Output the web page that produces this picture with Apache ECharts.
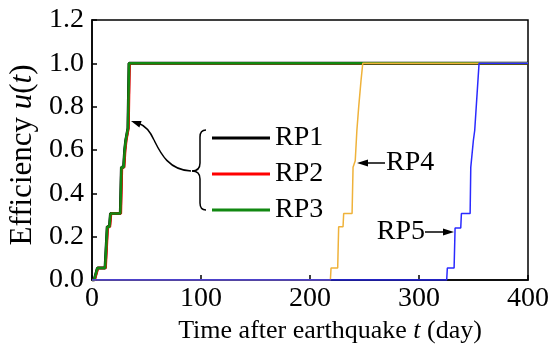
<!DOCTYPE html>
<html lang="en">
<head>
    <meta charset="UTF-8">
    <title>Efficiency</title>
    <script src="https://cdn.jsdelivr.net/npm/echarts@6/dist/echarts.min.js"></script>
</head>
<body style="margin:0">
<div id="main" style="width: 551px;height: 349px;"></div>
<script>
    // recovery curves (day, efficiency)
    var rp1Days = [0, 2, 5, 12, 14, 16, 17, 26, 27, 29, 30, 31, 33, 34, 400];
    var rp1Eff  = [0, 0, 0.055, 0.055, 0.246, 0.246, 0.307, 0.307, 0.52, 0.52, 0.6, 0.645, 0.7, 1.0, 1.0];
    var rp2Days = [0, 2.5, 5.5, 12.5, 14.5, 16.5, 17.5, 26.5, 27.5, 29.5, 30.5, 31.5, 33.5, 34.5, 400];
    var rp2Eff  = [0, 0, 0.055, 0.055, 0.246, 0.246, 0.307, 0.307, 0.52, 0.52, 0.6, 0.645, 0.7, 1.0, 1.0];
    var rp3Days = [0, 2, 5, 12, 14, 16, 17, 26, 27, 29, 30, 31, 33, 34, 400];
    var rp3Eff  = [0, 0, 0.055, 0.055, 0.246, 0.246, 0.307, 0.307, 0.52, 0.52, 0.6, 0.645, 0.7, 1.0, 1.0];
    var rp4Days = [0, 218.7, 219.3, 225.4, 226.3, 230.3, 230.9, 238.6, 239.5, 241.5, 243, 244.7, 246.8, 248.4, 400];
    var rp4Eff  = [0, 0, 0.055, 0.055, 0.246, 0.246, 0.307, 0.307, 0.52, 0.55, 0.69, 0.8, 0.92, 1.0, 1.0];
    var rp5Days = [0, 325.4, 326, 332.2, 333.1, 338.3, 338.9, 346.9, 347.5, 349.9, 351.1, 355.1, 400];
    var rp5Eff  = [0, 0, 0.055, 0.055, 0.24, 0.24, 0.307, 0.307, 0.52, 0.645, 0.69, 1.0, 1.0];
    var xTicks = [0, 100, 200, 300, 400];
    var yTicks = [0, 0.2, 0.4, 0.6, 0.8, 1.0, 1.2];

    function pairs(xs, ys) {
        var out = [];
        for (var i = 0; i < xs.length; i++) {
            out.push([xs[i], ys[i]]);
        }
        return out;
    }

    var serif = 'Liberation Serif, Times New Roman, serif';

    function curve(name, xs, ys, color, width) {
        return {
            name: name,
            type: 'line',
            data: pairs(xs, ys),
            symbol: 'none',
            animation: false,
            lineStyle: {color: color, width: width},
            itemStyle: {color: color}
        };
    }

    // small helpers for the annotation strokes
    var ink = {fill: null, stroke: '#000', lineWidth: 1.5};
    function seg(x1, y1, x2, y2) {
        return {type: 'line', shape: {x1: x1, y1: y1, x2: x2, y2: y2}, style: ink};
    }
    function quad(x1, y1, cx, cy, x2, y2) {
        return {type: 'bezierCurve', shape: {x1: x1, y1: y1, cpx1: cx, cpy1: cy, x2: x2, y2: y2}, style: ink};
    }
    function cubic(x1, y1, c1x, c1y, c2x, c2y, x2, y2) {
        return {type: 'bezierCurve', shape: {x1: x1, y1: y1, cpx1: c1x, cpy1: c1y, cpx2: c2x, cpy2: c2y, x2: x2, y2: y2}, style: ink};
    }
    function head(points) {
        return {type: 'polygon', shape: {points: points}, style: {fill: '#000'}};
    }
    function label(text, x, y, align) {
        return {type: 'text', x: x, y: y,
            style: {text: text, fontFamily: serif, fontSize: 28, fill: '#000', align: align, verticalAlign: 'middle'}};
    }

    var myChart = echarts.init(document.getElementById('main'));
    var option = {
        backgroundColor: '#fff',
        grid: {
            left: 92,
            right: 23,
            top: 20,
            bottom: 69,
            outerBoundsMode: 'none',
            show: true,
            borderColor: '#000',
            borderWidth: 1.5
        },
        legend: {
            orient: 'vertical',
            left: 207,
            top: 119,
            icon: 'rect',
            itemWidth: 58,
            itemHeight: 3,
            itemGap: 8,
            selectedMode: false,
            textStyle: {
                fontFamily: serif,
                fontSize: 28,
                color: '#000'
            },
            data: ['RP1', 'RP2', 'RP3']
        },
        xAxis: {
            type: 'value',
            min: xTicks[0],
            max: xTicks[xTicks.length - 1],
            interval: 100,
            name: 'Time after earthquake {i|t} (day)',
            nameLocation: 'middle',
            nameGap: 38,
            nameTextStyle: {
                fontFamily: serif,
                fontSize: 26,
                color: '#000',
                padding: [0, 0, 0, 40],
                rich: {i: {fontFamily: serif, fontSize: 26, fontStyle: 'italic', color: '#000'}}
            },
            axisLine: {lineStyle: {color: '#000', width: 1.5}},
            axisTick: {inside: true, length: 5, lineStyle: {color: '#000', width: 1.5}},
            axisLabel: {fontFamily: serif, fontSize: 28, color: '#000', margin: 5},
            splitLine: {show: false}
        },
        yAxis: {
            type: 'value',
            min: yTicks[0],
            max: yTicks[yTicks.length - 1],
            interval: 0.2,
            name: 'Efficiency {i|u}({i|t})',
            nameLocation: 'middle',
            nameGap: 52,
            nameTextStyle: {
                fontFamily: serif,
                fontSize: 31,
                color: '#000',
                padding: [0, 10, 0, 0],
                rich: {i: {fontFamily: serif, fontSize: 31, fontStyle: 'italic', color: '#000'}}
            },
            axisLine: {show: true, lineStyle: {color: '#000', width: 1.5}},
            axisTick: {show: true, inside: true, length: 5, lineStyle: {color: '#000', width: 1.5}},
            axisLabel: {
                fontFamily: serif, fontSize: 28, color: '#000', margin: 8,
                formatter: function (v) { return v.toFixed(1); }
            },
            splitLine: {show: false}
        },
        graphic: [
            // brace grouping RP1-RP3
            quad(206, 130, 200, 130, 200, 137),
            seg(200, 137, 200, 163),
            quad(200, 163, 200, 171, 192, 171),
            quad(192, 171, 200, 171, 200, 179),
            seg(200, 179, 200, 203),
            quad(200, 203, 200, 210, 206, 210),
            // curved arrow to the curves
            cubic(191, 171, 168, 170, 160, 152, 154, 140),
            cubic(154, 140, 150, 131, 146, 126, 139, 123.5),
            head([[131, 121], [141.6, 120.9], [139.4, 127.5]]),
            // RP4 label
            seg(366, 163, 385, 163),
            head([[357, 163], [368, 159.5], [368, 166.5]]),
            label('RP4', 386, 163, 'left'),
            // RP5 label
            seg(425, 232, 445, 232),
            head([[454, 232], [443, 228.5], [443, 235.5]]),
            label('RP5', 425, 232, 'right')
        ],
        series: [
            curve('RP1', rp1Days, rp1Eff, '#000000', 3),
            curve('RP2', rp2Days, rp2Eff, '#ff0000', 2.5),
            curve('RP3', rp3Days, rp3Eff, '#118811', 2.5),
            curve('RP4', rp4Days, rp4Eff, '#efb23a', 1.5),
            curve('RP5', rp5Days, rp5Eff, '#2a2aff', 1.5)
        ]
    };
    myChart.setOption(option);
</script>
</body>
</html>
